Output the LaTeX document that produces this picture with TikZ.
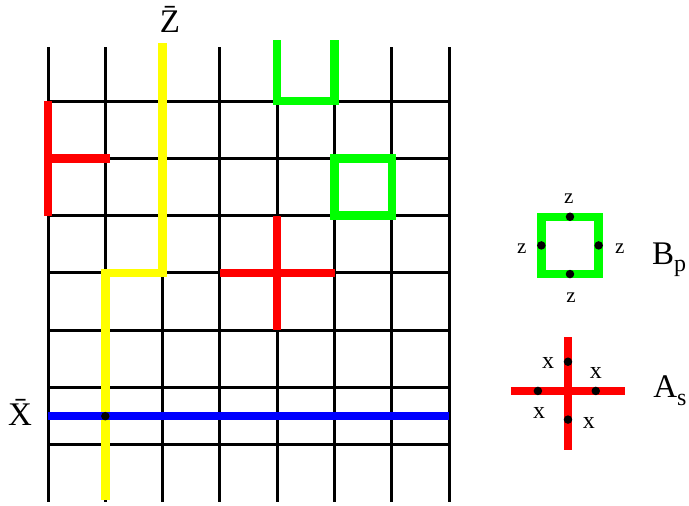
\documentclass[tikz,border=0pt]{standalone}
\usepackage{fontspec}
\setmainfont{Liberation Serif}
\usepackage{tikz}
\usetikzlibrary{positioning}
\definecolor{opgreen}{HTML}{00FF00}
\definecolor{opred}{HTML}{FF0000}
\definecolor{opyellow}{HTML}{FFFF00}
\definecolor{opblue}{HTML}{0000FF}

\begin{document}
\begin{tikzpicture}[
  x=57.3pt, y=-57.3pt,
  lattice/.style={line width=3pt, draw=black},
  op/.style={line width=8.5pt},
  site/.style={circle, fill=black, inner sep=0pt, minimum size=8.5pt},
  biglab/.style={font=\fontsize{33}{36}\selectfont, inner sep=0pt},
  smalllab/.style={font=\fontsize{21}{24}\selectfont, inner sep=0pt},
  xlab/.style={font=\fontsize{24}{26}\selectfont, inner sep=0pt}
]
\useasboundingbox (-0.838,-1.763) rectangle (11.187,7.068);

% lattice
\foreach \i in {0,...,7} \draw[lattice] (\i,-0.94) -- (\i,7.0);
\foreach \j in {0,...,6} \draw[lattice] (0,\j) -- (7,\j);

% operators on the lattice
\draw[op, opred] (0,0) -- (0,2);
\draw[op, opred, line cap=rect] (0,1) -- (1,1);
\draw[op, opred] (3,3) -- (5,3);
\draw[op, opred] (4,2) -- (4,4);
\draw[op, opgreen] (4,-1.06) -- (4,0) -- (5,0) -- (5,-1.06);
\draw[op, opgreen, line join=miter] (5,1) rectangle (6,2);
\draw[op, opyellow, line join=miter] (2,-1.01) -- (2,3) -- (1,3) -- (1,6.96);
\draw[op, opblue] (0,5.5) -- (7,5.5);
\node[site] (cross) at (1,5.5) {};

\node[biglab] (zbar) at (2.13,-1.43) {\=Z};
\node[biglab] (xbar) at (-0.49,5.44) {\=X};

% B_p legend
\draw[op, opgreen, line join=miter] (8.61,2.02) rectangle (9.61,3.02);
\node[site] (bt) at (9.11,2.02) {};
\node[site] (bl) at (8.61,2.52) {};
\node[site] (br) at (9.61,2.52) {};
\node[site] (bb) at (9.11,3.02) {};
\node[smalllab] (zt) at (9.09,1.71) {z};
\node[smalllab] (zl) at (8.27,2.57) {z};
\node[smalllab] (zr) at (9.98,2.57) {z};
\node[smalllab] (zb) at (9.13,3.44) {z};
\node[biglab, anchor=base west] (bp) at (10.54,2.86) {B\raisebox{-7pt}{\fontsize{24}{26}\selectfont p}};

% A_s legend
\draw[op, opred] (8.08,5.06) -- (10.07,5.06);
\draw[op, opred] (9.075,4.12) -- (9.075,6.09);
\node[site] (at) at (9.075,4.55) {};
\node[site] (al) at (8.55,5.06) {};
\node[site] (ar) at (9.56,5.06) {};
\node[site] (ab) at (9.075,5.56) {};
\node[xlab] (x1) at (8.73,4.57) {x};
\node[xlab] (x2) at (9.56,4.75) {x};
\node[xlab] (x3) at (8.57,5.45) {x};
\node[xlab] (x4) at (9.44,5.62) {x};
\node[biglab, anchor=base west] (as) at (10.56,5.17) {A\raisebox{-8pt}{\fontsize{24}{26}\selectfont s}};

\end{tikzpicture}
\end{document}
